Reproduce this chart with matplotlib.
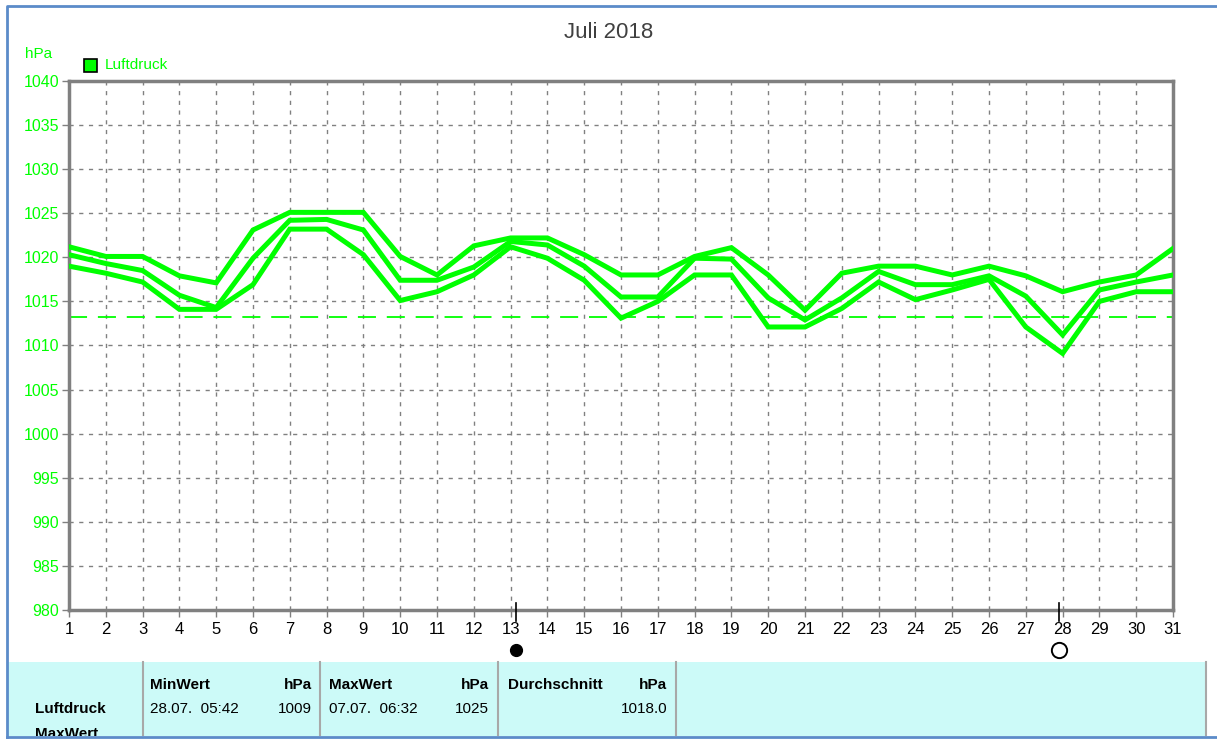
import numpy as np
import matplotlib
matplotlib.use('Agg')  # headless
import matplotlib.pyplot as plt
from matplotlib.patches import Rectangle

plt.rcParams['font.family'] = ['Liberation Sans', 'DejaVu Sans']

# daily air pressure, hPa (max / mean / min)
days = list(range(1, 32))
p_max = [1021.2, 1020.1, 1020.1, 1017.9, 1017.1, 1023.1, 1025.1, 1025.1, 1025.1, 1020.1,
         1018.0, 1021.3, 1022.2, 1022.2, 1020.3, 1018.0, 1018.0, 1020.1, 1021.1, 1018.0,
         1014.0, 1018.2, 1019.0, 1019.0, 1018.0, 1019.0, 1017.9, 1016.1, 1017.2, 1018.0, 1021.0]
p_avg = [1020.3, 1019.3, 1018.5, 1015.7, 1014.3, 1019.9, 1024.2, 1024.3, 1023.1, 1017.4,
         1017.4, 1018.9, 1021.8, 1021.4, 1019.0, 1015.5, 1015.5, 1019.9, 1019.8, 1015.4,
         1012.9, 1015.4, 1018.4, 1016.9, 1016.9, 1017.9, 1015.6, 1011.2, 1016.3, 1017.2, 1018.0]
p_min = [1019.0, 1018.2, 1017.2, 1014.1, 1014.1, 1016.9, 1023.2, 1023.2, 1020.3, 1015.1,
         1016.1, 1018.0, 1021.2, 1019.9, 1017.4, 1013.1, 1015.0, 1018.0, 1018.0, 1012.1,
         1012.1, 1014.2, 1017.2, 1015.2, 1016.3, 1017.5, 1012.1, 1009.1, 1015.0, 1016.1, 1016.1]
ref_pressure = 1013.25
y_ticks = list(range(980, 1041, 5))
new_moon_day = 13.15
full_moon_day = 27.9

title = "Juli 2018"
table_header = ["MinWert", "hPa", "MaxWert", "hPa", "Durchschnitt", "hPa"]
min_when, min_val = "28.07.  05:42", "1009"
max_when, max_val = "07.07.  06:32", "1025"
avg_val = "1018.0"

GREEN = '#00ff00'
GRID = '#808080'
W, H = 1217, 740

fig = plt.figure(figsize=(W / 100, H / 100), dpi=100)
fig.patch.set_facecolor('white')

# background layer in pixel coords
bg = fig.add_axes([0, 0, 1, 1])
bg.set_xlim(0, W)
bg.set_ylim(H, 0)
bg.axis('off')

bg.add_patch(Rectangle((8, 662), 1198, 74, facecolor='#ccfaf8', edgecolor='none', zorder=1))
for xs in [143, 320, 498, 676, 1206]:
    bg.plot([xs, xs], [662, 736], color='#a8a8a8', lw=1.5, zorder=2)

bold = dict(fontsize=11, fontweight='bold', color='black', va='center', zorder=3)
norm = dict(fontsize=11, color='black', va='center', zorder=3)
bg.text(150, 685, table_header[0], ha='left', **bold)
bg.text(312, 685, table_header[1], ha='right', **bold)
bg.text(329, 685, table_header[2], ha='left', **bold)
bg.text(489, 685, table_header[3], ha='right', **bold)
bg.text(508, 685, table_header[4], ha='left', **bold)
bg.text(667, 685, table_header[5], ha='right', **bold)
bg.text(35, 709, "Luftdruck", ha='left', **bold)
bg.text(35, 734, "MaxWert", ha='left', **bold)
bg.text(150, 709, min_when, ha='left', **norm)
bg.text(312, 709, min_val, ha='right', **norm)
bg.text(329, 709, max_when, ha='left', **norm)
bg.text(489, 709, max_val, ha='right', **norm)
bg.text(667, 709, avg_val, ha='right', **norm)

# cut off the last row at the window border
bg.add_patch(Rectangle((0, 736), W, 10, facecolor='white', edgecolor='none', zorder=5))
bg.plot([7, 7, W + 5], [737, 6, 6], color='#5b8bc9', lw=2, zorder=6)
bg.plot([7, W + 5], [737, 737], color='#5b8bc9', lw=2, zorder=6)

bg.text(609, 32, title, ha='center', va='center', fontsize=16, color='#404040')
bg.text(25, 54, "hPa", ha='left', va='center', fontsize=11, color=GREEN)
bg.add_patch(Rectangle((84, 59), 13, 13, facecolor=GREEN, edgecolor='black', lw=1.2, zorder=3))
bg.text(105, 65, "Luftdruck", ha='left', va='center', fontsize=11, color=GREEN)

# main chart
x0, x1, y0, y1 = 69, 1173, 81, 610
ax = fig.add_axes([x0 / W, 1 - y1 / H, (x1 - x0) / W, (y1 - y0) / H])
ax.set_facecolor('white')
ax.set_xlim(1, 31)
ax.set_ylim(980, 1040)

ax.set_xticks(days)
ax.set_xticklabels([str(d) for d in days], fontsize=12, color='black')
ax.set_yticks(y_ticks)
ax.set_yticklabels([str(v) for v in y_ticks], fontsize=11.5, color=GREEN)
ax.tick_params(axis='both', length=5, width=1, color=GRID, pad=2)
ax.tick_params(axis='x', pad=4)

ax.grid(True, color=GRID, linestyle=(0, (3, 4)), linewidth=1)
for s in ax.spines.values():
    s.set_color(GRID)
    s.set_linewidth(2.5)

ax.axhline(ref_pressure, color=GREEN, lw=1.3, linestyle=(0, (10, 6)), zorder=2)
for series in (p_max, p_avg, p_min):
    ax.plot(days, series, color=GREEN, lw=3.6, solid_joinstyle='miter', zorder=3)

# moon phases below the axis
trans = ax.get_xaxis_transform()
for d in (new_moon_day, full_moon_day):
    ax.plot([d, d], [0.014, -0.02], color='black', lw=1.2, transform=trans, clip_on=False, zorder=6)
ax.plot([new_moon_day], [-0.075], marker='o', ms=8.5, color='black', transform=trans, clip_on=False)
ax.plot([full_moon_day], [-0.075], marker='o', ms=11, mfc='white', mec='black', mew=1.4,
        transform=trans, clip_on=False)

fig.savefig('out.png', dpi=100, facecolor='white')
